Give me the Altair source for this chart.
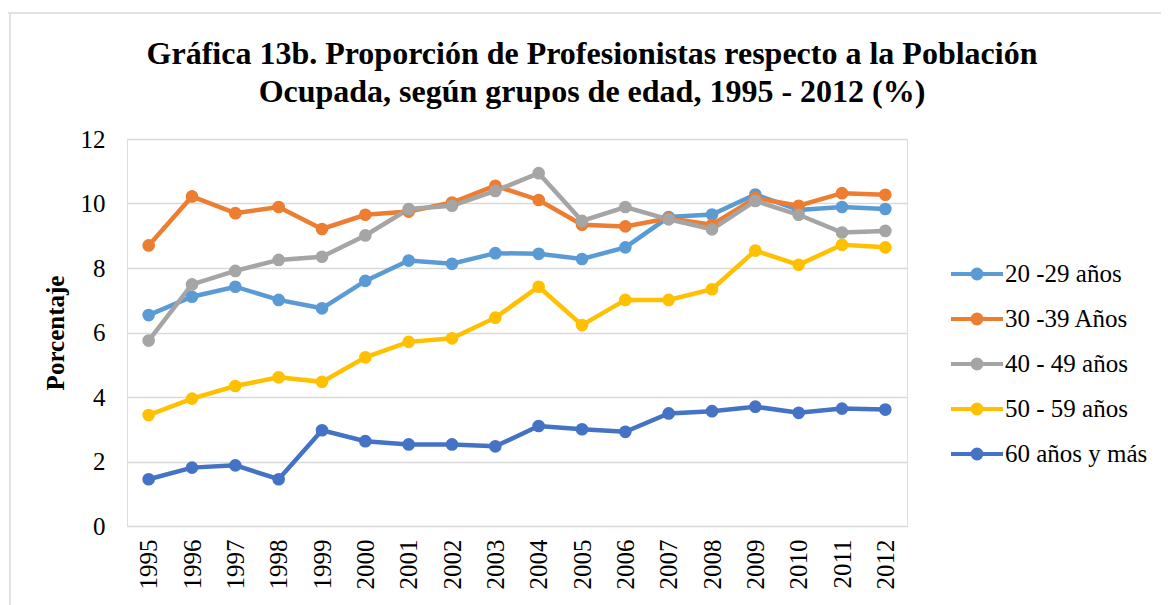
import altair as alt
import pandas as pd

years = [str(y) for y in range(1995, 2013)]
series_names = ["20 -29 años", "30 -39 Años", "40 - 49 años", "50 - 59 años", "60 años y más"]
colors = ["#5B9BD5", "#ED7D31", "#A5A5A5", "#FFC000", "#4472C4"]

s20 = [6.54, 7.11, 7.42, 7.01, 6.75, 7.60, 8.23, 8.13, 8.46, 8.44, 8.28, 8.64, 9.58, 9.66, 10.28, 9.80, 9.89, 9.83]
s30 = [8.70, 10.22, 9.70, 9.89, 9.21, 9.65, 9.75, 10.03, 10.55, 10.11, 9.34, 9.29, 9.54, 9.34, 10.17, 9.93, 10.32, 10.27]
s40 = [5.75, 7.49, 7.91, 8.25, 8.35, 9.01, 9.83, 9.93, 10.39, 10.94, 9.46, 9.89, 9.51, 9.20, 10.08, 9.65, 9.10, 9.15]
s50 = [3.44, 3.95, 4.34, 4.61, 4.47, 5.23, 5.71, 5.82, 6.46, 7.42, 6.23, 7.01, 7.01, 7.34, 8.54, 8.10, 8.72, 8.64]
s60 = [1.45, 1.81, 1.88, 1.45, 2.97, 2.63, 2.53, 2.53, 2.47, 3.10, 3.00, 2.92, 3.49, 3.56, 3.70, 3.51, 3.64, 3.61]

rows = []
for name, vals in zip(series_names, [s20, s30, s40, s50, s60]):
    for y, v in zip(years, vals):
        rows.append({"Año": y, "Serie": name, "Valor": v})
df = pd.DataFrame(rows)

FONT = "Liberation Serif"

# legend symbol: line with a round marker (stroke only)
sym = ("M-2,0L2,0 "
       "M-0.346,0A0.346,0.346 0 1,0 0.346,0A0.346,0.346 0 1,0 -0.346,0 "
       "M-0.077,0A0.077,0.077 0 1,0 0.077,0A0.077,0.077 0 1,0 -0.077,0")

lines = alt.Chart(df).mark_line(
    strokeWidth=4.5,
    point=alt.OverlayMarkDef(filled=True, size=160, opacity=1),
).encode(
    x=alt.X("Año:O", sort=years,
            scale=alt.Scale(type="point", padding=0.5),
            axis=alt.Axis(title=None, labelAngle=270, labelFont=FONT, labelFontSize=25,
                          labelColor="#000000", labelPadding=13, ticks=False,
                          domain=False, grid=False)),
    y=alt.Y("Valor:Q",
            scale=alt.Scale(domain=[0, 12], nice=False),
            axis=alt.Axis(title="Porcentaje", values=[0, 2, 4, 6, 8, 10, 12],
                          labelFont=FONT, labelFontSize=25, labelColor="#000000",
                          labelPadding=22, titleFont=FONT, titleFontSize=25,
                          titleFontWeight="bold", titleColor="#000000", titlePadding=12,
                          ticks=False, domain=False, grid=True,
                          gridColor="#d9d9d9", gridWidth=1.5)),
    color=alt.Color("Serie:N",
                    scale=alt.Scale(domain=series_names, range=colors),
                    legend=alt.Legend(title=None, orient="none", legendX=835, legendY=120,
                                      symbolType=sym, symbolSize=676, symbolStrokeWidth=4,
                                      symbolOpacity=1,
                                      labelFont=FONT, labelFontSize=25, labelColor="#000000",
                                      labelOffset=13, rowPadding=17, padding=0,
                                      labelLimit=300)),
)

border_data = pd.DataFrame({"k": [0]})
top_border = alt.Chart(border_data).mark_rule(color="#d9d9d9", strokeWidth=1.5).encode(
    x=alt.value(-119), x2=alt.value(1034), y=alt.value(-126)
)
left_border = alt.Chart(border_data).mark_rule(color="#d9d9d9", strokeWidth=1.5).encode(
    x=alt.value(-117), y=alt.value(-126), y2=alt.value(470)
)

chart = alt.layer(top_border, left_border, lines).properties(
    width=780,
    height=387,
    title=alt.TitleParams(
        text=["Gráfica 13b. Proporción de Profesionistas respecto a la Población",
              "Ocupada, según grupos de edad, 1995 - 2012 (%)"],
        font=FONT, fontSize=32, fontWeight="bold", color="#000000",
        anchor="middle", frame="group", dx=75, offset=-96.75, lineHeight=38,
    ),
    autosize=alt.AutoSizeParams(type="none"),
    padding={"left": 119, "top": 131, "right": 254, "bottom": 90},
).configure_view(stroke=None).configure(background="#ffffff")

chart.save("out.html", embed_options={"renderer": "svg", "actions": False})
